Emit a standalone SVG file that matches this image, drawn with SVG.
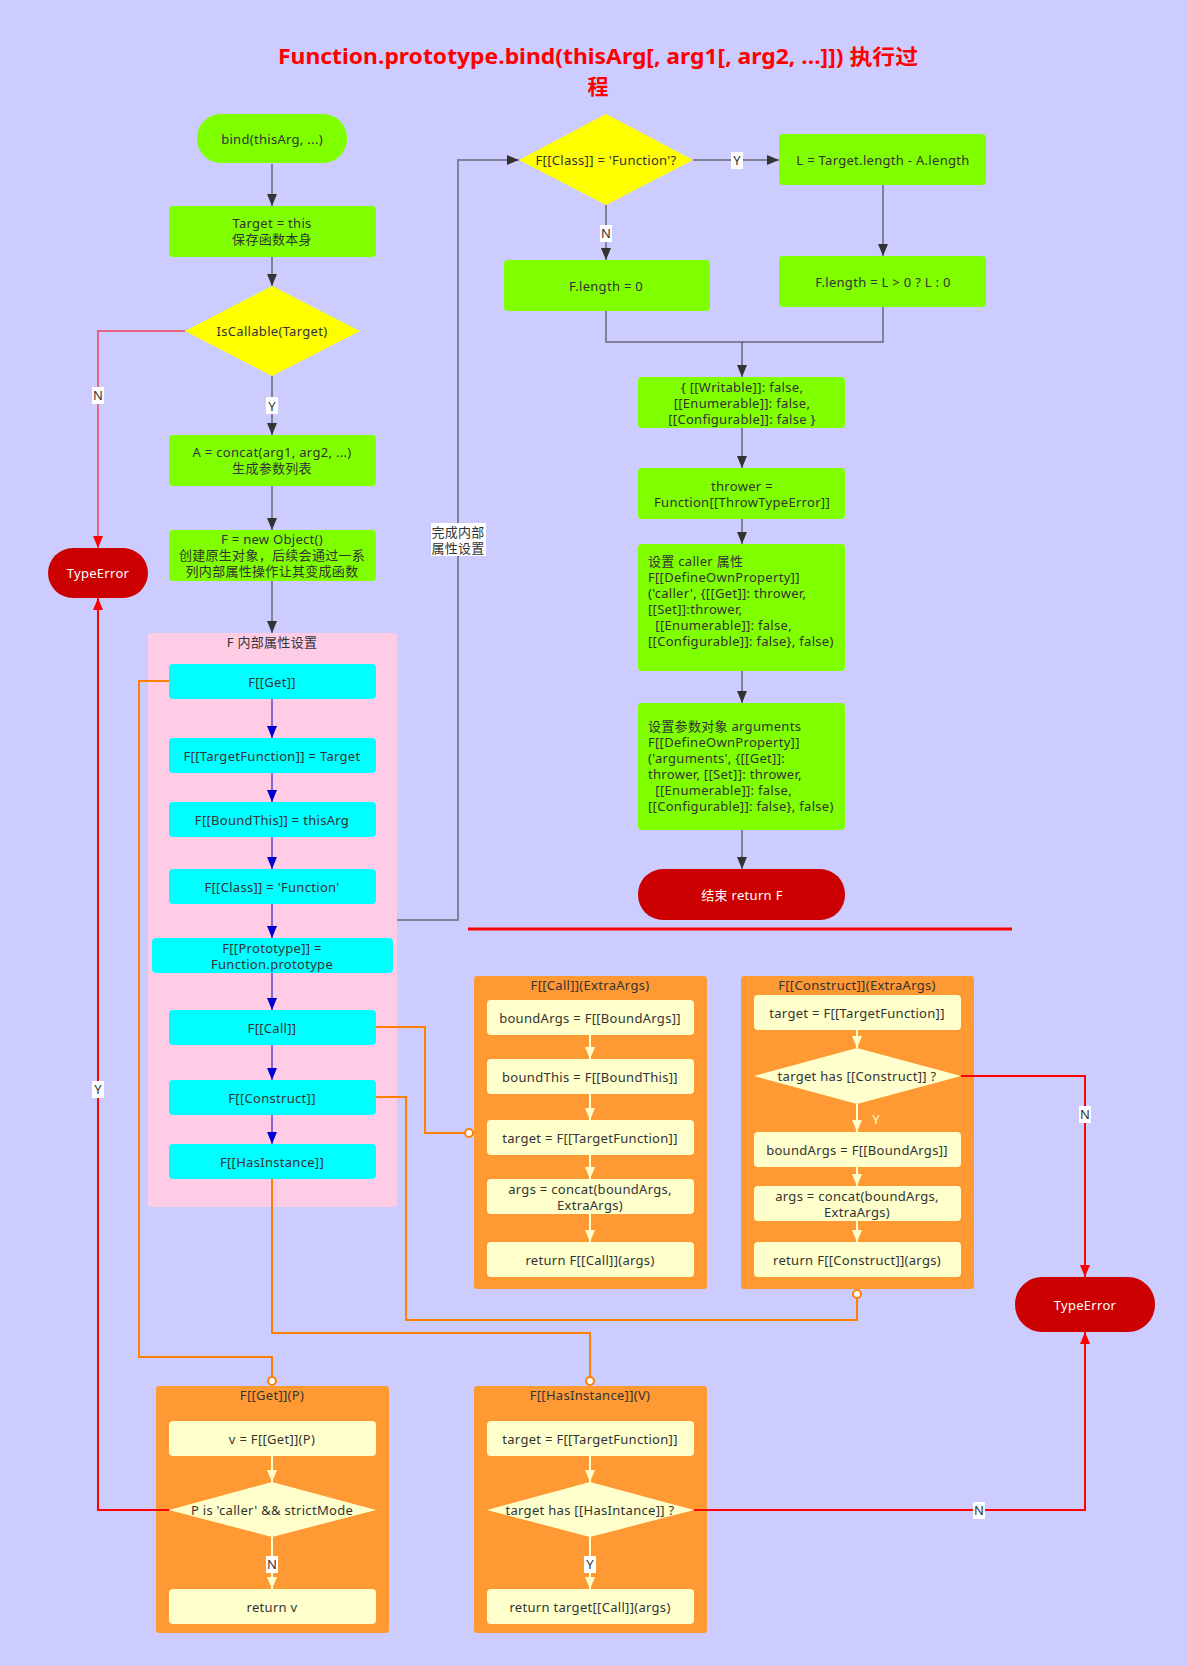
<svg xmlns="http://www.w3.org/2000/svg" width="1187" height="1666" viewBox="0 0 1187 1666">
  <style>
    .t{font-family:"Noto Sans","Noto Sans CJK SC",sans-serif;font-size:13px;letter-spacing:0.3px;fill:#333;text-anchor:middle;dominant-baseline:central}
    .tl{text-anchor:start}
    .tw{fill:#fff}
    .ty{fill:#ffffcc}
    .title{font-family:"Noto Sans","Noto Sans CJK SC",sans-serif;font-size:21px;font-weight:bold;fill:#ff0000;text-anchor:middle;dominant-baseline:central}
    .green{fill:#80ff00}
    .yellow{fill:#ffff00}
    .cyan{fill:#00ffff}
    .term{fill:#cc0000}
    .pink{fill:#ffcce6}
    .orange{fill:#ff9933}
    .cream{fill:#ffffcc}
    .lbl{fill:#fff}
    .c-gray{fill:none;stroke:#333;stroke-opacity:0.5;stroke-width:2;marker-end:url(#aGray)}
    .c-blue{fill:none;stroke:#0000cc;stroke-opacity:0.5;stroke-width:2;marker-end:url(#aBlue)}
    .c-red{fill:none;stroke:#ff0000;stroke-width:2;marker-end:url(#aRed)}
    .c-cream{fill:none;stroke:#ffffcc;stroke-width:2;marker-end:url(#aCream)}
    .c-orange{fill:none;stroke:#ff8000;stroke-width:2}
    .dot{fill:#fff;stroke:#ff8000;stroke-width:2}
  </style>
  <defs>
    <marker id="aGray" markerUnits="userSpaceOnUse" markerWidth="12" markerHeight="10" refX="12" refY="5" orient="auto"><path d="M0,0 L12,5 L0,10 z" fill="#333"/></marker>
    <marker id="aBlue" markerUnits="userSpaceOnUse" markerWidth="12" markerHeight="10" refX="12" refY="5" orient="auto"><path d="M0,0 L12,5 L0,10 z" fill="#0000cc"/></marker>
    <marker id="aRed" markerUnits="userSpaceOnUse" markerWidth="12" markerHeight="10" refX="12" refY="5" orient="auto"><path d="M0,0 L12,5 L0,10 z" fill="#ff0000"/></marker>
    <marker id="aCream" markerUnits="userSpaceOnUse" markerWidth="12" markerHeight="10" refX="12" refY="5" orient="auto"><path d="M0,0 L12,5 L0,10 z" fill="#ffffcc"/></marker>
  </defs>

  <rect x="0" y="0" width="1187" height="1666" fill="#ccccff"/>

  <g id="title">
    <text class="title" x="598" y="56" textLength="640" lengthAdjust="spacingAndGlyphs">Function.prototype.bind(thisArg[, arg1[, arg2, ...]]) 执行过</text>
    <text class="title" x="598" y="86">程</text>
  </g>

  <!-- containers -->
  <g id="group-internal">
    <rect class="pink" x="148" y="633" width="249" height="574" rx="4"/>
    <text class="t" x="272" y="642">F 内部属性设置</text>
  </g>
  <g id="group-call">
    <rect class="orange" x="474" y="976" width="233" height="313" rx="3"/>
    <text class="t" x="590" y="985">F[[Call]](ExtraArgs)</text>
  </g>
  <g id="group-construct">
    <rect class="orange" x="741" y="976" width="233" height="313" rx="3"/>
    <text class="t" x="857" y="985">F[[Construct]](ExtraArgs)</text>
  </g>
  <g id="group-get">
    <rect class="orange" x="156" y="1386" width="233" height="247" rx="3"/>
    <text class="t" x="272" y="1395">F[[Get]](P)</text>
  </g>
  <g id="group-hasinstance">
    <rect class="orange" x="474" y="1386" width="233" height="247" rx="3"/>
    <text class="t" x="590" y="1395">F[[HasInstance]](V)</text>
  </g>

  <!-- main flow, left column -->
  <g id="n-bind">
    <rect class="green" x="197" y="114" width="150" height="49" rx="24"/>
    <text class="t" x="272" y="139">bind(thisArg, ...)</text>
  </g>
  <g id="n-target">
    <rect class="green" x="169" y="206" width="207" height="51" rx="4"/>
    <text class="t" x="272" y="223">Target = this</text>
    <text class="t" x="272" y="239">保存函数本身</text>
  </g>
  <g id="n-iscallable">
    <polygon class="yellow" points="272,286 360,331 272,376 185,331"/>
    <text class="t" x="272" y="331">IsCallable(Target)</text>
  </g>
  <g id="n-concat">
    <rect class="green" x="169" y="435" width="207" height="51" rx="4"/>
    <text class="t" x="272" y="452">A = concat(arg1, arg2, ...)</text>
    <text class="t" x="272" y="468">生成参数列表</text>
  </g>
  <g id="n-newobject">
    <rect class="green" x="169" y="530" width="207" height="51" rx="4"/>
    <text class="t" x="272" y="539">F = new Object()</text>
    <text class="t" x="272" y="555">创建原生对象，后续会通过一系</text>
    <text class="t" x="272" y="571">列内部属性操作让其变成函数</text>
  </g>
  <g id="n-typeerror-left">
    <rect class="term" x="48" y="548" width="100" height="50" rx="25"/>
    <text class="t tw" x="98" y="573">TypeError</text>
  </g>

  <!-- internal property steps -->
  <g id="n-get">
    <rect class="cyan" x="169" y="664" width="207" height="35" rx="4"/>
    <text class="t" x="272" y="682">F[[Get]]</text>
  </g>
  <g id="n-targetfunction">
    <rect class="cyan" x="169" y="738" width="207" height="35" rx="4"/>
    <text class="t" x="272" y="756">F[[TargetFunction]] = Target</text>
  </g>
  <g id="n-boundthis">
    <rect class="cyan" x="169" y="802" width="207" height="35" rx="4"/>
    <text class="t" x="272" y="820">F[[BoundThis]] = thisArg</text>
  </g>
  <g id="n-class">
    <rect class="cyan" x="169" y="869" width="207" height="35" rx="4"/>
    <text class="t" x="272" y="887">F[[Class]] = 'Function'</text>
  </g>
  <g id="n-prototype">
    <rect class="cyan" x="152" y="938" width="241" height="35" rx="4"/>
    <text class="t" x="272" y="948">F[[Prototype]] =</text>
    <text class="t" x="272" y="964">Function.prototype</text>
  </g>
  <g id="n-call">
    <rect class="cyan" x="169" y="1010" width="207" height="35" rx="4"/>
    <text class="t" x="272" y="1028">F[[Call]]</text>
  </g>
  <g id="n-construct">
    <rect class="cyan" x="169" y="1080" width="207" height="35" rx="4"/>
    <text class="t" x="272" y="1098">F[[Construct]]</text>
  </g>
  <g id="n-hasinstance">
    <rect class="cyan" x="169" y="1144" width="207" height="35" rx="4"/>
    <text class="t" x="272" y="1162">F[[HasInstance]]</text>
  </g>

  <!-- right column -->
  <g id="n-classcheck">
    <polygon class="yellow" points="606,114 693,160 606,205 519,160"/>
    <text class="t" x="606" y="160">F[[Class]] = 'Function'?</text>
  </g>
  <g id="n-l">
    <rect class="green" x="779" y="134" width="207" height="51" rx="4"/>
    <text class="t" x="883" y="160">L = Target.length - A.length</text>
  </g>
  <g id="n-flength-l">
    <rect class="green" x="779" y="256" width="207" height="51" rx="4"/>
    <text class="t" x="883" y="282">F.length = L &gt; 0 ? L : 0</text>
  </g>
  <g id="n-flength-0">
    <rect class="green" x="504" y="260" width="206" height="51" rx="4"/>
    <text class="t" x="606" y="286">F.length = 0</text>
  </g>
  <g id="n-attrs">
    <rect class="green" x="638" y="377" width="207" height="51" rx="4"/>
    <text class="t" x="742" y="387">{ [[Writable]]: false,</text>
    <text class="t" x="742" y="403">[[Enumerable]]: false,</text>
    <text class="t" x="742" y="419">[[Configurable]]: false }</text>
  </g>
  <g id="n-thrower">
    <rect class="green" x="638" y="468" width="207" height="51" rx="4"/>
    <text class="t" x="742" y="486">thrower =</text>
    <text class="t" x="742" y="502">Function[[ThrowTypeError]]</text>
  </g>
  <g id="n-caller">
    <rect class="green" x="638" y="544" width="207" height="127" rx="4"/>
    <text class="t tl" x="648" y="561">设置 caller 属性</text>
    <text class="t tl" x="648" y="577">F[[DefineOwnProperty]]</text>
    <text class="t tl" x="648" y="593">('caller', {[[Get]]: thrower,</text>
    <text class="t tl" x="648" y="609">[[Set]]:thrower,</text>
    <text class="t tl" x="648" y="625" xml:space="preserve">  [[Enumerable]]: false,</text>
    <text class="t tl" x="648" y="641">[[Configurable]]: false}, false)</text>
  </g>
  <g id="n-arguments">
    <rect class="green" x="638" y="703" width="207" height="127" rx="4"/>
    <text class="t tl" x="648" y="726">设置参数对象 arguments</text>
    <text class="t tl" x="648" y="742">F[[DefineOwnProperty]]</text>
    <text class="t tl" x="648" y="758">('arguments', {[[Get]]:</text>
    <text class="t tl" x="648" y="774">thrower, [[Set]]: thrower,</text>
    <text class="t tl" x="648" y="790" xml:space="preserve">  [[Enumerable]]: false,</text>
    <text class="t tl" x="648" y="806">[[Configurable]]: false}, false)</text>
  </g>
  <g id="n-end">
    <rect class="term" x="638" y="869" width="207" height="51" rx="25"/>
    <text class="t tw" x="742" y="895">结束 return F</text>
  </g>
  <g id="separator">
    <line x1="468" y1="929" x2="1012" y2="929" stroke="#ff0000" stroke-width="3"/>
  </g>

  <!-- F[[Call]](ExtraArgs) steps -->
  <g id="n-call-boundargs">
    <rect class="cream" x="487" y="1000" width="207" height="35" rx="4"/>
    <text class="t" x="590" y="1018">boundArgs = F[[BoundArgs]]</text>
  </g>
  <g id="n-call-boundthis">
    <rect class="cream" x="487" y="1059" width="207" height="35" rx="4"/>
    <text class="t" x="590" y="1077">boundThis = F[[BoundThis]]</text>
  </g>
  <g id="n-call-target">
    <rect class="cream" x="487" y="1120" width="207" height="35" rx="4"/>
    <text class="t" x="590" y="1138">target = F[[TargetFunction]]</text>
  </g>
  <g id="n-call-args">
    <rect class="cream" x="487" y="1179" width="207" height="35" rx="4"/>
    <text class="t" x="590" y="1189">args = concat(boundArgs,</text>
    <text class="t" x="590" y="1205">ExtraArgs)</text>
  </g>
  <g id="n-call-return">
    <rect class="cream" x="487" y="1242" width="207" height="35" rx="4"/>
    <text class="t" x="590" y="1260">return F[[Call]](args)</text>
  </g>

  <!-- F[[Construct]](ExtraArgs) steps -->
  <g id="n-cons-target">
    <rect class="cream" x="754" y="995" width="207" height="35" rx="4"/>
    <text class="t" x="857" y="1013">target = F[[TargetFunction]]</text>
  </g>
  <g id="n-cons-check">
    <polygon class="cream" points="857,1048 961,1076 857,1104 754,1076"/>
    <text class="t" x="857" y="1076">target has [[Construct]] ?</text>
  </g>
  <g id="n-cons-boundargs">
    <rect class="cream" x="754" y="1132" width="207" height="35" rx="4"/>
    <text class="t" x="857" y="1150">boundArgs = F[[BoundArgs]]</text>
  </g>
  <g id="n-cons-args">
    <rect class="cream" x="754" y="1186" width="207" height="35" rx="4"/>
    <text class="t" x="857" y="1196">args = concat(boundArgs,</text>
    <text class="t" x="857" y="1212">ExtraArgs)</text>
  </g>
  <g id="n-cons-return">
    <rect class="cream" x="754" y="1242" width="207" height="35" rx="4"/>
    <text class="t" x="857" y="1260">return F[[Construct]](args)</text>
  </g>
  <g id="n-typeerror-right">
    <rect class="term" x="1015" y="1277" width="140" height="55" rx="27"/>
    <text class="t tw" x="1085" y="1305">TypeError</text>
  </g>

  <!-- F[[Get]](P) steps -->
  <g id="n-get-v">
    <rect class="cream" x="169" y="1421" width="207" height="35" rx="4"/>
    <text class="t" x="272" y="1439">v = F[[Get]](P)</text>
  </g>
  <g id="n-get-check">
    <polygon class="cream" points="272,1482 376,1510 272,1537 169,1510"/>
    <text class="t" x="272" y="1510">P is 'caller' &amp;&amp; strictMode</text>
  </g>
  <g id="n-get-return">
    <rect class="cream" x="169" y="1589" width="207" height="35" rx="4"/>
    <text class="t" x="272" y="1607">return v</text>
  </g>

  <!-- F[[HasInstance]](V) steps -->
  <g id="n-hi-target">
    <rect class="cream" x="487" y="1421" width="207" height="35" rx="4"/>
    <text class="t" x="590" y="1439">target = F[[TargetFunction]]</text>
  </g>
  <g id="n-hi-check">
    <polygon class="cream" points="590,1482 694,1510 590,1537 487,1510"/>
    <text class="t" x="590" y="1510">target has [[HasIntance]] ?</text>
  </g>
  <g id="n-hi-return">
    <rect class="cream" x="487" y="1589" width="207" height="35" rx="4"/>
    <text class="t" x="590" y="1607">return target[[Call]](args)</text>
  </g>

  <g id="connectors">
    <!-- main flow -->
    <path class="c-gray" d="M272,164 V206"/>
    <path class="c-gray" d="M272,257 V286"/>
    <path class="c-gray" d="M272,376 V435"/>
    <path class="c-gray" d="M272,486 V530"/>
    <path class="c-gray" d="M272,581 V633"/>
    <path class="c-gray" d="M397,920 H458 V160 H519"/>
    <path class="c-gray" d="M693,160 H779"/>
    <path class="c-gray" d="M606,205 V260"/>
    <path class="c-gray" d="M883,185 V256"/>
    <path class="c-gray" d="M883,307 V342 H742" style="marker-end:none"/>
    <path class="c-gray" d="M606,311 V342 H742 V377"/>
    <path class="c-gray" d="M742,428 V468"/>
    <path class="c-gray" d="M742,519 V544"/>
    <path class="c-gray" d="M742,671 V703"/>
    <path class="c-gray" d="M742,830 V869"/>

    <!-- internal property chain -->
    <path class="c-blue" d="M272,699 V738"/>
    <path class="c-blue" d="M272,773 V802"/>
    <path class="c-blue" d="M272,837 V869"/>
    <path class="c-blue" d="M272,904 V938"/>
    <path class="c-blue" d="M272,973 V1010"/>
    <path class="c-blue" d="M272,1045 V1080"/>
    <path class="c-blue" d="M272,1115 V1144"/>

    <!-- error paths -->
    <path class="c-red" d="M185,331 H98 V548" stroke-opacity="0.5"/>
    <path class="c-red" d="M169,1510 H98 V598"/>
    <path class="c-red" d="M961,1076 H1085 V1277"/>
    <path class="c-red" d="M694,1510 H1085 V1332"/>

    <!-- steps inside sub-procedures -->
    <path class="c-cream" d="M590,1035 V1059"/>
    <path class="c-cream" d="M590,1094 V1120"/>
    <path class="c-cream" d="M590,1155 V1179"/>
    <path class="c-cream" d="M590,1214 V1242"/>
    <path class="c-cream" d="M857,1030 V1048"/>
    <path class="c-cream" d="M857,1104 V1132"/>
    <path class="c-cream" d="M857,1167 V1186"/>
    <path class="c-cream" d="M857,1221 V1242"/>
    <path class="c-cream" d="M272,1456 V1482"/>
    <path class="c-cream" d="M272,1537 V1589"/>
    <path class="c-cream" d="M590,1456 V1482"/>
    <path class="c-cream" d="M590,1537 V1589"/>

    <!-- links from internal methods to their definitions -->
    <path class="c-orange" d="M169,681 H139 V1357 H272 V1377"/>
    <path class="c-orange" d="M376,1027 H425 V1133 H465"/>
    <path class="c-orange" d="M376,1097 H406 V1320 H857 V1298"/>
    <path class="c-orange" d="M272,1179 V1333 H590 V1377"/>
    <circle class="dot" cx="272" cy="1381" r="4"/>
    <circle class="dot" cx="469" cy="1133" r="4"/>
    <circle class="dot" cx="857" cy="1294" r="4"/>
    <circle class="dot" cx="590" cy="1381" r="4"/>

    <!-- connector labels -->
    <rect class="lbl" x="92" y="387" width="12" height="17"/>
    <text class="t" x="98" y="395">N</text>
    <rect class="lbl" x="266" y="397" width="12" height="17"/>
    <text class="t" x="272" y="406">Y</text>
    <rect class="lbl" x="731" y="152" width="12" height="17"/>
    <text class="t" x="737" y="160">Y</text>
    <rect class="lbl" x="600" y="225" width="12" height="17"/>
    <text class="t" x="606" y="233">N</text>
    <rect class="lbl" x="431" y="523" width="55" height="33"/>
    <text class="t" x="458" y="532">完成内部</text>
    <text class="t" x="458" y="548">属性设置</text>
    <rect class="lbl" x="92" y="1081" width="12" height="17"/>
    <text class="t" x="98" y="1089">Y</text>
    <rect class="lbl" x="1079" y="1106" width="12" height="17"/>
    <text class="t" x="1085" y="1114">N</text>
    <rect class="lbl" x="973" y="1502" width="12" height="17"/>
    <text class="t" x="979" y="1510">N</text>
    <text class="t ty" x="876" y="1119">Y</text>
    <rect class="lbl" x="266" y="1556" width="12" height="17"/>
    <text class="t" x="272" y="1564">N</text>
    <rect class="lbl" x="584" y="1556" width="12" height="17"/>
    <text class="t" x="590" y="1564">Y</text>
  </g>
</svg>
